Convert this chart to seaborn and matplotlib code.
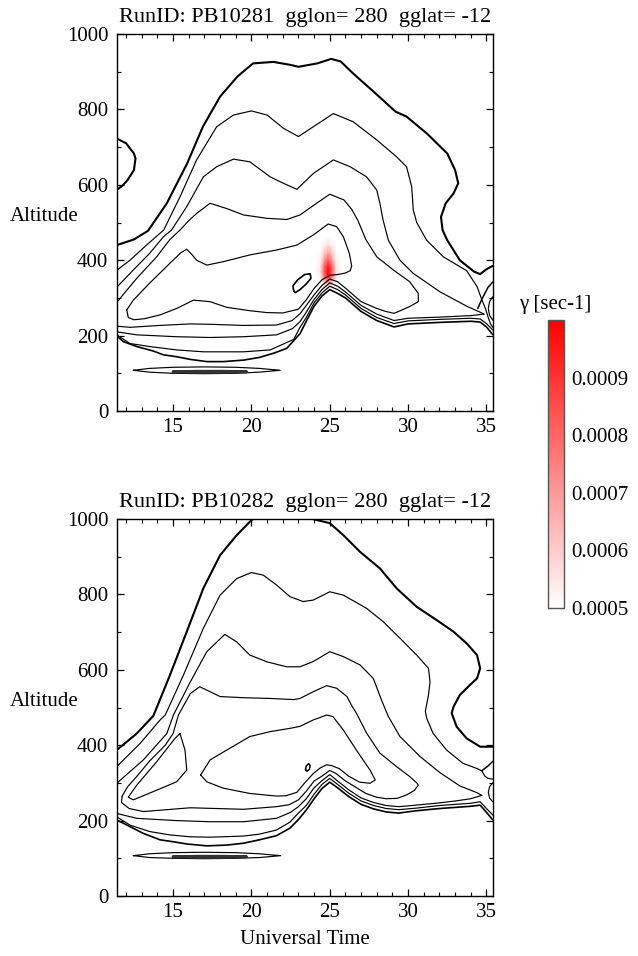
import numpy as np
import matplotlib
matplotlib.use('Agg')
import matplotlib.pyplot as plt
import seaborn as sns
from matplotlib.colors import LinearSegmentedColormap, Normalize
from matplotlib.cm import ScalarMappable
from matplotlib.ticker import MultipleLocator

# ---------------- data ----------------
x_ticks = [15, 20, 25, 30, 35]
y_ticks = [0, 200, 400, 600, 800, 1000]
x_limits = (11.4, 35.4)
y_limits = (0, 1000)
titles = ["RunID: PB10281  gglon= 280  gglat= -12",
          "RunID: PB10282  gglon= 280  gglat= -12"]
cbar_ticks = [0.0005, 0.0006, 0.0007, 0.0008, 0.0009]
cbar_range = (0.0005, 0.0010)

# ---- top panel (PB10281) contour lines: hours / km ----
t_c1_up_x = [11.4, 12.5, 13.4, 14.6, 15.9, 16.9, 18.0, 19.1, 20.1, 21.4, 22.5, 23.0, 24.2, 25.1, 25.7, 26.5, 27.8,
             29.2, 29.9, 31.2, 32.5, 33.0, 33.2, 32.9, 32.4, 32.1, 32.2, 32.5, 33.3, 34.2, 34.6, 35.0, 35.4]
t_c1_up_y = [440, 455, 478, 551, 657, 754, 834, 887, 922, 926, 918, 913, 922, 934, 927, 895, 847,
             794, 781, 736, 683, 639, 604, 577, 551, 515, 480, 453, 400, 370, 363, 376, 385]
t_loop_x = [11.4, 12.0, 12.5, 12.6, 12.5, 12.1, 11.8, 11.4]
t_loop_y = [723, 710, 683, 670, 639, 613, 599, 586]
t_c2_up_x = [11.4, 12.25, 13.3, 14.4, 15.44, 16.5, 17.78, 18.85, 20.0, 21.0, 22.04, 23.0, 23.95, 25.23, 26.5, 28.0,
             29.27, 29.9, 30.23, 30.33, 30.55, 31.18, 32.25, 33.74, 34.4, 34.7, 34.95, 35.1, 35.25, 35.4]
t_c2_up_y = [373, 400, 440, 480, 568, 666, 754, 785, 796, 785, 750, 728, 754, 789, 767, 719,
             674, 648, 595, 533, 500, 453, 409, 372, 330, 296, 270, 250, 232, 222]
t_c3_up_x = [11.4, 12.46, 13.5, 14.38, 14.9, 15.87, 16.93, 17.78, 18.85, 19.9, 21.2, 22.04, 22.9, 23.95, 25.23,
             26.3, 27.35, 28.0, 28.2, 28.4, 28.74, 29.48, 30.33, 32.04, 33.74, 34.6, 34.85]
t_c3_up_y = [328, 374, 418, 462, 480, 542, 621, 648, 668, 661, 621, 604, 588, 630, 666,
             648, 621, 586, 551, 507, 453, 400, 365, 316, 278, 262, 257]
t_c4_x = [11.4, 12.68, 13.95, 14.8, 15.44, 16.0, 16.5, 17.36, 18.42, 19.5, 21.0, 22.26, 23.1, 24.16, 25.0, 25.9,
          26.4, 26.8, 27.3, 28.0, 29.06, 30.1, 30.65, 30.65, 30.1, 29.5, 29.1, 28.5, 28.0, 27.0, 26.0, 25.5,
          25.0, 24.5, 24.0, 23.5, 23.1, 22.6, 21.6, 19.5, 17.36, 16.1, 14.17, 12.25, 11.4]
t_c4_y = [288, 352, 409, 455, 480, 505, 524, 551, 537, 520, 511, 508, 520, 551, 575, 560,
          535, 505, 455, 409, 374, 343, 312, 290, 277, 266, 259, 265, 272, 290, 326, 343,
          350, 333, 308, 280, 258, 240, 228, 227, 230, 231, 227, 222, 225]
t_c5_x = [12.04, 12.46, 13.5, 14.8, 15.5, 15.87, 16.2, 16.5, 17.15, 18.2, 19.9, 21.6, 22.9, 23.95, 24.9, 25.44,
          25.87, 26.25, 26.4, 26.3, 26.0, 25.5, 25.0, 24.5, 24.0, 23.5, 23.0, 22.0, 21.0, 19.9, 18.42, 17.36,
          16.3, 15.23, 14.17, 13.2, 12.5, 12.14, 12.04]
t_c5_y = [268, 294, 339, 392, 420, 429, 415, 400, 387, 396, 414, 427, 440, 467, 496, 489,
          462, 418, 385, 372, 366, 362, 360, 348, 325, 295, 270, 260, 261, 266, 275, 290,
          294, 272, 255, 245, 242, 248, 268]
t_c3_lo_x = [34.85, 34.0, 32.0, 30.0, 29.1, 28.0, 27.0, 26.0, 25.5, 25.0, 24.5, 24.0, 23.5, 23.1, 22.6, 21.6,
             19.5, 17.36, 15.23, 12.68, 11.4]
t_c3_lo_y = [257, 253, 249, 246, 240, 257, 280, 316, 331, 340, 322, 296, 262, 237, 218, 202,
             197, 195, 197, 202, 210]
t_c2_lo_x = [35.4, 35.0, 34.6, 34.0, 32.0, 30.0, 29.1, 28.0, 27.0, 26.0, 25.5, 25.0, 24.5, 24.0, 23.5, 23.1,
             22.7, 21.2, 19.5, 16.93, 15.23, 13.5, 12.25, 11.4]
t_c2_lo_y = [215, 232, 244, 246, 243, 239, 232, 248, 272, 308, 322, 331, 313, 287, 248, 222,
             190, 162, 157, 157, 162, 171, 179, 202]
t_c1_lo_x = [35.4, 35.0, 34.6, 34.0, 32.0, 30.0, 29.1, 28.0, 27.0, 26.0, 25.5, 25.0, 24.5, 24.0, 23.5, 23.1,
             22.25, 21.4, 20.5, 19.5, 18.2, 17.15, 16.08, 15.23, 14.38, 13.74, 12.68, 11.83, 11.4]
t_c1_lo_y = [203, 223, 236, 238, 235, 231, 223, 240, 264, 300, 312, 322, 305, 278, 238, 205,
             166, 153, 142, 135, 131, 131, 137, 144, 149, 159, 171, 184, 199]
t_isle_x = [22.7, 22.65, 22.95, 23.4, 23.75, 23.8, 23.5, 23.1, 22.8, 22.7]
t_isle_y = [318, 332, 348, 362, 364, 352, 337, 322, 314, 318]
t_xline_x = [35.4, 35.1, 34.7, 34.45]
t_xline_y = [342, 328, 296, 272]
t_edge_x = [35.4, 35.2, 35.12, 35.2, 35.4]
t_edge_y = [303, 290, 272, 254, 241]
t_ell_x = [12.46, 13.5, 15.0, 17.0, 19.0, 20.5, 21.83, 20.5, 19.0, 17.0, 15.0, 13.5, 12.46]
t_ell_y = [108, 113, 116, 117, 116, 113, 108, 103, 100, 99, 100, 103, 108]
t_core_x = [15.0, 16.5, 18.2, 19.7, 18.2, 16.5, 15.0]
t_core_y = [104, 105.5, 105.5, 104, 102.5, 102.5, 104]

# growth rate gamma [sec-1] near 25 UT (top panel only), values x 1e-4
gam_x = [24.1, 24.4, 24.65, 24.9, 25.15, 25.4, 25.7]
gam_y = [320, 340, 355, 370, 385, 400, 420, 440, 460]
gam_v = [[5.0, 5.0, 5.0, 5.0, 5.0, 5.0, 5.0],
         [5.0, 5.0, 5.8, 6.5, 5.8, 5.0, 5.0],
         [5.0, 5.4, 7.6, 9.5, 7.6, 5.4, 5.0],
         [5.0, 5.6, 8.3, 10.0, 8.3, 5.6, 5.0],
         [5.0, 5.5, 7.9, 9.3, 7.9, 5.5, 5.0],
         [5.0, 5.3, 7.0, 8.3, 7.0, 5.3, 5.0],
         [5.0, 5.1, 6.0, 6.8, 6.0, 5.1, 5.0],
         [5.0, 5.0, 5.3, 5.7, 5.3, 5.0, 5.0],
         [5.0, 5.0, 5.0, 5.0, 5.0, 5.0, 5.0]]

# ---- bottom panel (PB10282) ----
b_c1_up_x = [11.4, 12.68, 13.74, 14.8, 15.87, 16.93, 18.0, 19.06, 20.0, 20.4, 21.0, 22.5, 23.5, 24.4, 25.0, 25.87,
             26.93, 28.2, 29.27, 30.55, 31.82, 32.9, 33.74, 34.4, 34.6, 34.4, 33.95, 33.3, 32.9, 32.78, 33.1,
             33.74, 34.6, 35.4]
b_c1_up_y = [387, 431, 478, 586, 701, 816, 904, 957, 997, 1008, 1015, 1012, 1004, 995, 989, 957,
             913, 869, 816, 767, 732, 701, 670, 639, 604, 577, 560, 533, 502, 485, 449,
             418, 396, 396]
b_c2_up_x = [11.4, 12.9, 14.17, 14.5, 15.66, 16.93, 18.0, 19.06, 20.0, 20.76, 21.6, 22.46, 23.3, 23.95, 25.0, 25.87,
             27.35, 28.4, 29.5, 30.55, 31.3, 31.4, 31.3, 31.1, 31.2, 31.6, 32.46, 33.5, 34.4, 34.7, 34.9, 35.1,
             35.4]
b_c2_up_y = [343, 405, 467, 480, 586, 710, 798, 842, 858, 851, 825, 794, 781, 785, 807, 798,
             763, 728, 683, 639, 604, 568, 533, 490, 470, 431, 387, 352, 338, 332, 318, 312,
             310]
b_c3_up_x = [11.4, 13.1, 14.6, 15.02, 16.1, 17.15, 18.3, 19.06, 19.9, 21.0, 22.25, 23.1, 23.95, 25.0, 25.87,
             26.93, 27.78, 28.1, 28.3, 28.74, 29.48, 30.76, 32.04, 33.3, 34.4, 34.7]
b_c3_up_y = [299, 361, 431, 480, 568, 648, 694, 674, 639, 621, 608, 608, 622, 648, 635,
             613, 577, 542, 520, 476, 423, 370, 327, 292, 274, 267]
b_c4_x = [11.75, 12.1, 12.7, 13.5, 14.5, 15.0, 15.34, 16.1, 16.7, 17.36, 18.0, 19.5, 21.2, 22.7, 23.1, 23.95,
          24.8, 25.44, 26.1, 26.4, 26.7, 27.35, 28.2, 29.27, 30.1, 30.55, 30.65, 30.4, 29.9, 29.3, 28.6,
          28.0, 27.3, 26.6, 26.0, 25.4, 25.0, 24.5, 24.0, 23.5, 23.0, 22.4, 21.6, 19.5, 16.1, 13.1, 12.2,
          11.7, 11.75]
b_c4_y = [265, 290, 318, 358, 400, 431, 480, 537, 555, 542, 529, 526, 524, 521, 524, 542,
          558, 551, 529, 505, 485, 432, 379, 343, 317, 300, 294, 280, 268, 259, 258,
          262, 272, 290, 305, 325, 333, 318, 305, 278, 255, 242, 237, 230, 234, 224, 232,
          248, 265]
b_tri_x = [15.44, 15.76, 15.87, 15.23, 13.74, 12.46, 12.14, 12.68, 13.95, 15.12, 15.44]
b_tri_y = [431, 387, 334, 303, 277, 255, 262, 294, 356, 418, 431]
b_c5_x = [16.76, 17.36, 18.42, 19.9, 21.2, 22.5, 23.1, 23.95, 24.8, 25.2, 25.87, 26.7, 27.57, 27.9, 27.57,
          26.9, 26.2, 25.6, 25.1, 24.8, 24.4, 23.95, 23.4, 22.9, 22.2, 21.6, 19.9, 18.2, 17.15, 16.76]
b_c5_y = [321, 361, 387, 423, 436, 445, 450, 467, 480, 476, 440, 387, 334, 308, 299,
          302, 318, 338, 346, 348, 340, 325, 300, 275, 266, 265, 272, 286, 303, 321]
b_c3_lo_x = [34.7, 34.0, 33.0, 32.0, 31.0, 30.0, 29.4, 28.6, 27.8, 27.0, 26.2, 25.5, 25.0, 24.5, 24.0, 23.5,
             23.0, 22.5, 21.6, 19.5, 17.36, 15.23, 12.68, 11.4]
b_c3_lo_y = [267, 258, 252, 247, 243, 239, 237, 240, 248, 260, 282, 305, 322, 306, 287, 258,
             237, 222, 206, 197, 197, 200, 206, 219]
b_c2_lo_x = [35.4, 35.0, 34.6, 34.0, 32.0, 30.5, 29.4, 28.6, 27.8, 27.0, 26.2, 25.5, 25.0, 24.5, 24.0, 23.5,
             23.0, 22.46, 21.6, 20.5, 19.5, 17.36, 16.1, 14.8, 13.5, 12.25, 11.4]
b_c2_lo_y = [215, 232, 250, 246, 240, 233, 229, 232, 240, 252, 273, 296, 312, 296, 270, 240,
             220, 196, 175, 164, 159, 156, 157, 162, 171, 188, 210]
b_c1_lo_x = [35.4, 35.0, 34.6, 34.0, 32.0, 30.5, 29.4, 28.6, 27.8, 27.0, 26.2, 25.5, 25.0, 24.5, 24.0, 23.5,
             23.0, 22.46, 21.6, 20.5, 19.5, 18.4, 17.15, 15.87, 15.0, 14.17, 13.1, 12.25, 11.4]
b_c1_lo_y = [202, 222, 241, 238, 232, 226, 220, 223, 231, 243, 264, 287, 302, 285, 258, 228,
             203, 180, 160, 149, 140, 135, 133, 138, 144, 149, 166, 184, 202]
b_isle_x = [23.45, 23.5, 23.65, 23.75, 23.7, 23.55, 23.45]
b_isle_y = [335, 345, 351, 346, 336, 331, 335]
b_xline_x = [35.4, 35.1, 34.7]
b_xline_y = [357, 345, 332]
b_edge_x = [35.4, 35.2, 35.12, 35.2, 35.4]
b_edge_y = [300, 290, 275, 260, 250]
b_ell_x = [12.46, 13.5, 15.0, 17.0, 19.0, 20.5, 21.87, 20.5, 19.0, 17.0, 15.0, 13.5, 12.46]
b_ell_y = [107, 112, 115, 116, 115, 112, 107, 102, 100, 99, 100, 102, 107]
b_core_x = [15.0, 16.5, 18.2, 19.7, 18.2, 16.5, 15.0]
b_core_y = [104, 105.5, 105.5, 104, 102.5, 102.5, 104]

# ---------------- styling ----------------
sns.set_theme(style='ticks')
plt.rcParams['font.family'] = ['Liberation Serif', 'DejaVu Serif']
plt.rcParams['font.size'] = 15
plt.rcParams['axes.linewidth'] = 1.0
plt.rcParams['axes.edgecolor'] = 'black'
plt.rcParams['text.color'] = 'black'
plt.rcParams['xtick.color'] = 'black'
plt.rcParams['ytick.color'] = 'black'
plt.rcParams['axes.labelcolor'] = 'black'

THIN, THICK = 0.85, 1.5
fig = plt.figure(figsize=(6.38, 9.56), dpi=100)
ax_top = fig.add_axes([116.7 / 638, 1 - 411 / 956, 376 / 638, 377 / 956])
ax_bot = fig.add_axes([116.7 / 638, 1 - 896 / 956, 376 / 638, 377 / 956])

cmap = LinearSegmentedColormap.from_list('wr', ['#ffffff', '#ff0000'])
norm = Normalize(vmin=cbar_range[0], vmax=cbar_range[1])


def draw(ax, x, y, lw, color='black'):
    sns.lineplot(x=x, y=y, sort=False, estimator=None, color=color, linewidth=lw, ax=ax,
                 solid_joinstyle='round', solid_capstyle='round', zorder=3)


# growth-rate shading (top)
gv = np.array(gam_v) * 1e-4
ax_top.pcolormesh(gam_x, gam_y, gv, shading='gouraud', cmap=cmap, norm=norm, zorder=1)

top_lines = [(t_c1_up_x, t_c1_up_y, THICK), (t_loop_x, t_loop_y, THICK),
             (t_c2_up_x, t_c2_up_y, THIN), (t_c3_up_x, t_c3_up_y, THIN),
             (t_c4_x, t_c4_y, THIN), (t_c5_x, t_c5_y, THIN),
             (t_c3_lo_x, t_c3_lo_y, THIN), (t_c2_lo_x, t_c2_lo_y, THIN),
             (t_c1_lo_x, t_c1_lo_y, 1.2), (t_isle_x, t_isle_y, 1.2),
             (t_xline_x, t_xline_y, 1.1), (t_edge_x, t_edge_y, THIN),
             (t_ell_x, t_ell_y, THIN)]
for x, y, lw in top_lines:
    draw(ax_top, x, y, lw)
draw(ax_top, t_core_x, t_core_y, 2.0, color='#333333')

bot_lines = [(b_c1_up_x, b_c1_up_y, THICK), (b_c2_up_x, b_c2_up_y, THIN),
             (b_c3_up_x, b_c3_up_y, THIN), (b_c4_x, b_c4_y, THIN),
             (b_tri_x, b_tri_y, THIN), (b_c5_x, b_c5_y, THIN),
             (b_c3_lo_x, b_c3_lo_y, THIN), (b_c2_lo_x, b_c2_lo_y, THIN),
             (b_c1_lo_x, b_c1_lo_y, 1.2), (b_isle_x, b_isle_y, 1.1),
             (b_xline_x, b_xline_y, 1.1), (b_edge_x, b_edge_y, THIN),
             (b_ell_x, b_ell_y, THIN)]
for x, y, lw in bot_lines:
    draw(ax_bot, x, y, lw)
draw(ax_bot, b_core_x, b_core_y, 2.0, color='#333333')

for ax, title in zip([ax_top, ax_bot], titles):
    ax.set_xlim(*x_limits)
    ax.set_ylim(*y_limits)
    ax.set_xticks(x_ticks)
    ax.set_yticks(y_ticks)
    ax.xaxis.set_minor_locator(MultipleLocator(1))
    ax.yaxis.set_minor_locator(MultipleLocator(100))
    ax.tick_params(which='both', direction='in', top=True, right=True, labelsize=15, color='black')
    ax.tick_params(which='major', length=5, width=0.9)
    ax.tick_params(which='minor', length=3, width=0.8)
    ax.tick_params(axis='y', pad=6)
    ax.tick_params(axis='x', pad=5)
    ax.set_title(title, fontsize=16, pad=9)
    ax.set_xlabel('')
    ax.set_ylabel('Altitude', rotation=0, fontsize=15, ha='center', va='center')
    ax.yaxis.set_label_coords(-0.193, 0.517)
    for s in ax.spines.values():
        s.set_visible(True)
        s.set_linewidth(1.0)
    ax.set_facecolor('white')

ax_bot.set_xlabel('Universal Time', fontsize=15, labelpad=6)

# colour bar
cax = fig.add_axes([548 / 638, 1 - 608 / 956, 16 / 638, 288 / 956])
cb = fig.colorbar(ScalarMappable(norm=norm, cmap=cmap), cax=cax, ticks=cbar_ticks, format='%.4f')
cb.outline.set_edgecolor('#555555')
cb.outline.set_linewidth(1.0)
cax.tick_params(direction='in', left=True, right=True, length=3, width=0.8, labelsize=15, pad=5,
                color='#333333')
fig.text(555 / 638, 1 - 305 / 956, 'γ [sec-1]', ha='center', va='center', fontsize=15)

fig.savefig('out.png', dpi=100)
